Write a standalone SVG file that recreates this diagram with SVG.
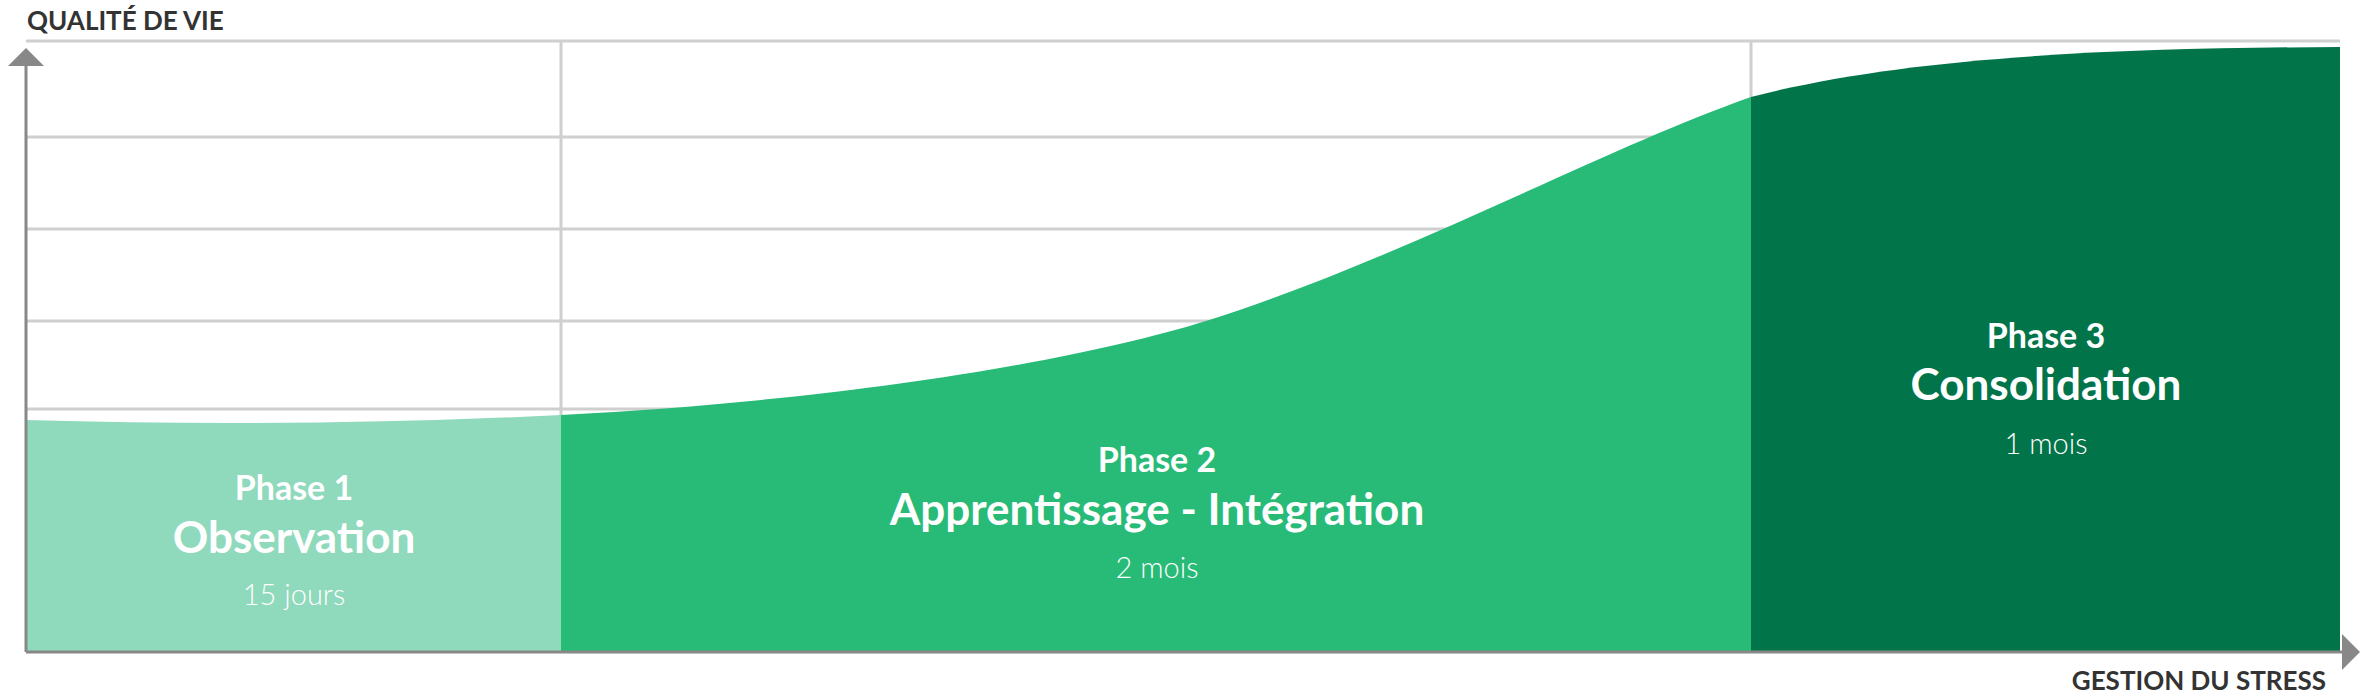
<svg xmlns="http://www.w3.org/2000/svg" width="2364" height="696" viewBox="0 0 2364 696">
<style>
.grid{stroke:#cfcfcf;stroke-width:3;fill:none}
.axis{stroke:#888;stroke-width:3;fill:none}
.ax{font-family:Lato,"Liberation Sans",sans-serif;font-weight:700;font-size:26px;fill:#333}
.t{font-family:Lato,"Liberation Sans",sans-serif;fill:#fff;text-anchor:middle}
.p{font-weight:700;font-size:34px}
.n{font-weight:700;font-size:44px}
.d{font-weight:300;font-size:29px}
</style>
<defs>
<marker id="ah" markerWidth="10" markerHeight="10" refX="5" refY="5" orient="auto" markerUnits="userSpaceOnUse"><path d="M0,0L10,5L0,10z" fill="#888"/></marker>
</defs>
<g id="grid">
<path class="grid" d="M26,41H2340M26,137H2340M26,229H2340M26,321H2340M26,409H2340M561,41V652M1751,41V652"/>
</g>
<g id="phase1">
<path d="M26,420 Q300,428 561,415 V652 H26 Z" fill="#8FD9BC"/>
<text class="t p" x="294" y="500">Phase 1</text>
<text class="t n" x="294" y="553">Observation</text>
<text class="t d" x="294" y="605">15 jours</text>
</g>
<g id="phase2">
<path d="M561,415 C850,400 1080,360 1206,321 C1400,260 1600,150 1751,97 V652 H561 Z" fill="#27BB77"/>
<text class="t p" x="1157" y="472">Phase 2</text>
<text class="t n" x="1157" y="525">Apprentissage - Intégration</text>
<text class="t d" x="1157" y="578">2 mois</text>
</g>
<g id="phase3">
<path d="M1751,97 C1900,58 2100,48 2340,47 V652 H1751 Z" fill="#02744A"/>
<text class="t p" x="2046" y="348">Phase 3</text>
<text class="t n" x="2046" y="400">Consolidation</text>
<text class="t d" x="2046" y="454">1 mois</text>
</g>
<g id="connectors">
<path d="M26,652V66" class="axis"/>
<path d="M26,48L44,66H8Z" fill="#888"/>
<path d="M26,652H2342" class="axis"/>
<path d="M2360,652L2342,634V670Z" fill="#888"/>
</g>
<text class="ax" x="27" y="30">QUALITÉ DE VIE</text>
<text class="ax" x="2326" y="690" text-anchor="end">GESTION DU STRESS</text>
</svg>
